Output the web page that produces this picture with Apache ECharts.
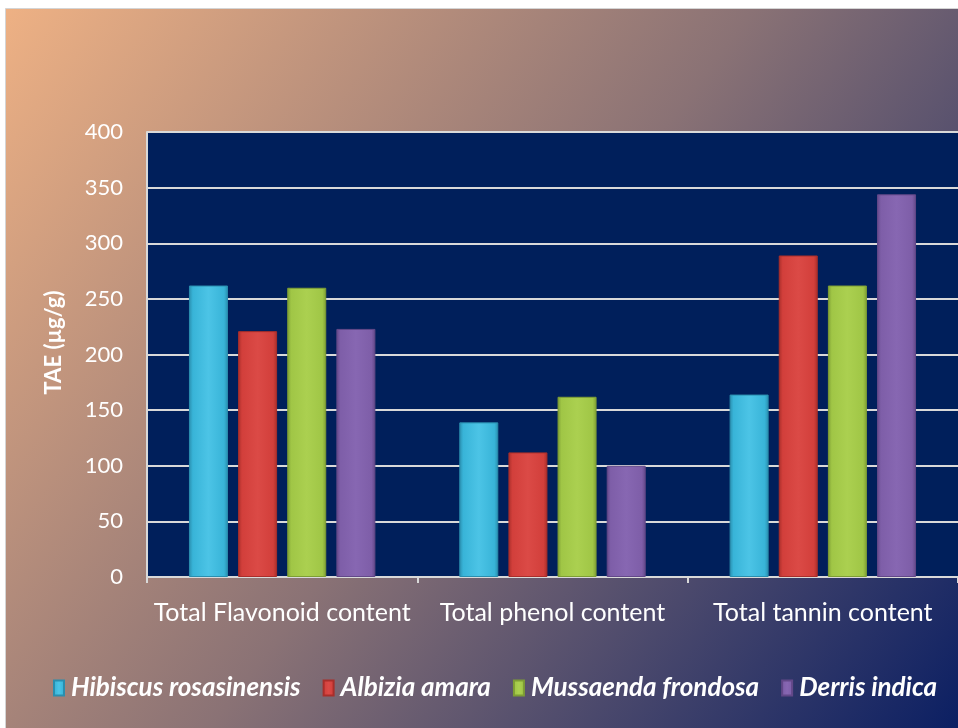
<!DOCTYPE html>
<html><head><meta charset="utf-8">
<script src="https://cdn.jsdelivr.net/npm/echarts@6/dist/echarts.min.js"></script>
<style>html,body{margin:0;padding:0;background:#fff;}#c{width:958px;height:728px;}</style>
</head><body><div id="c"></div>
<script>
const categories = ['Total Flavonoid content', 'Total phenol content', 'Total tannin content'];
const seriesNames = ['Hibiscus rosasinensis', 'Albizia amara', 'Mussaenda frondosa', 'Derris indica'];
const hibiscus = [262, 139, 164];
const albizia = [221, 112, 289];
const mussaenda = [260, 162, 262];
const derris = [223, 100, 344];
const yTicks = [0, 50, 100, 150, 200, 250, 300, 350, 400];

const values = [hibiscus, albizia, mussaenda, derris];
const palette = [
  {main:'#38B4D8', light:'#4CC4E6', dark:'#2A8EAE'},
  {main:'#D23F3B', light:'#DB4A46', dark:'#A92E2A'},
  {main:'#A0C646', light:'#ABD050', dark:'#7E9E34'},
  {main:'#7E5EA8', light:'#8767B2', dark:'#624888'}
];
function grad(p){
  return new echarts.graphic.LinearGradient(0,0,1,0,[
    {offset:0,color:p.dark},{offset:0.1,color:p.main},{offset:0.5,color:p.light},{offset:0.9,color:p.main},{offset:1,color:p.dark}
  ]);
}
const chart = echarts.init(document.getElementById('c'));
const series = seriesNames.map((n,i)=>({
  name:n, type:'bar', data: values[i], barWidth:39, barGap:'26%',
  itemStyle:{color:grad(palette[i]), borderColor:palette[i].dark, borderWidth:1},
  z:3
}));
chart.setOption({
  animation:false,
  color: palette.map(p=>p.main),
  graphic:[{
    type:'rect', left:5, top:8, z:-10, silent:true,
    shape:{width:953, height:720},
    style:{
      fill:new echarts.graphic.LinearGradient(0,0,1,1,[
        {offset:0,color:'#EEB184'},{offset:0.5,color:'#8A7275'},{offset:1,color:'#0B1F63'}
      ]),
      stroke:'#D4D4D4', lineWidth:1
    }
  }],
  grid:{left:147, top:132, width:815, height:445, show:true, backgroundColor:'#001F5B', borderWidth:0},
  legend:{
    data:seriesNames, top:670, left:48, itemWidth:10, itemHeight:15, itemGap:22, icon:'rect',
    textStyle:{color:'#fff', fontFamily:'Lato', fontWeight:'bold', fontStyle:'italic', fontSize:26, padding:[0,0,0,2]}
  },
  xAxis:{
    type:'category', data:categories,
    axisLine:{lineStyle:{color:'#D9D9D9', width:2}},
    axisTick:{show:true, length:6, lineStyle:{color:'#D9D9D9', width:2}},
    axisLabel:{color:'#fff', fontFamily:'Lato', fontSize:25, margin:23, interval:0}
  },
  yAxis:{
    type:'value', min:0, max:400, interval:50,
    name:'TAE (µg/g)', nameLocation:'middle', nameGap:82, nameRotate:90,
    nameTextStyle:{color:'#fff', fontFamily:'Lato', fontWeight:'bold', fontSize:22, padding:[0,0,0,24]},
    axisLine:{show:true, lineStyle:{color:'#D9D9D9', width:2}},
    axisTick:{show:false},
    splitLine:{lineStyle:{color:'#D9D9D9', width:2}},
    axisLabel:{color:'#fff', fontFamily:'Lato', fontSize:22, margin:24,
      formatter:v=>yTicks.includes(v)?String(v):''}
  },
  series:series
});
</script></body></html>
